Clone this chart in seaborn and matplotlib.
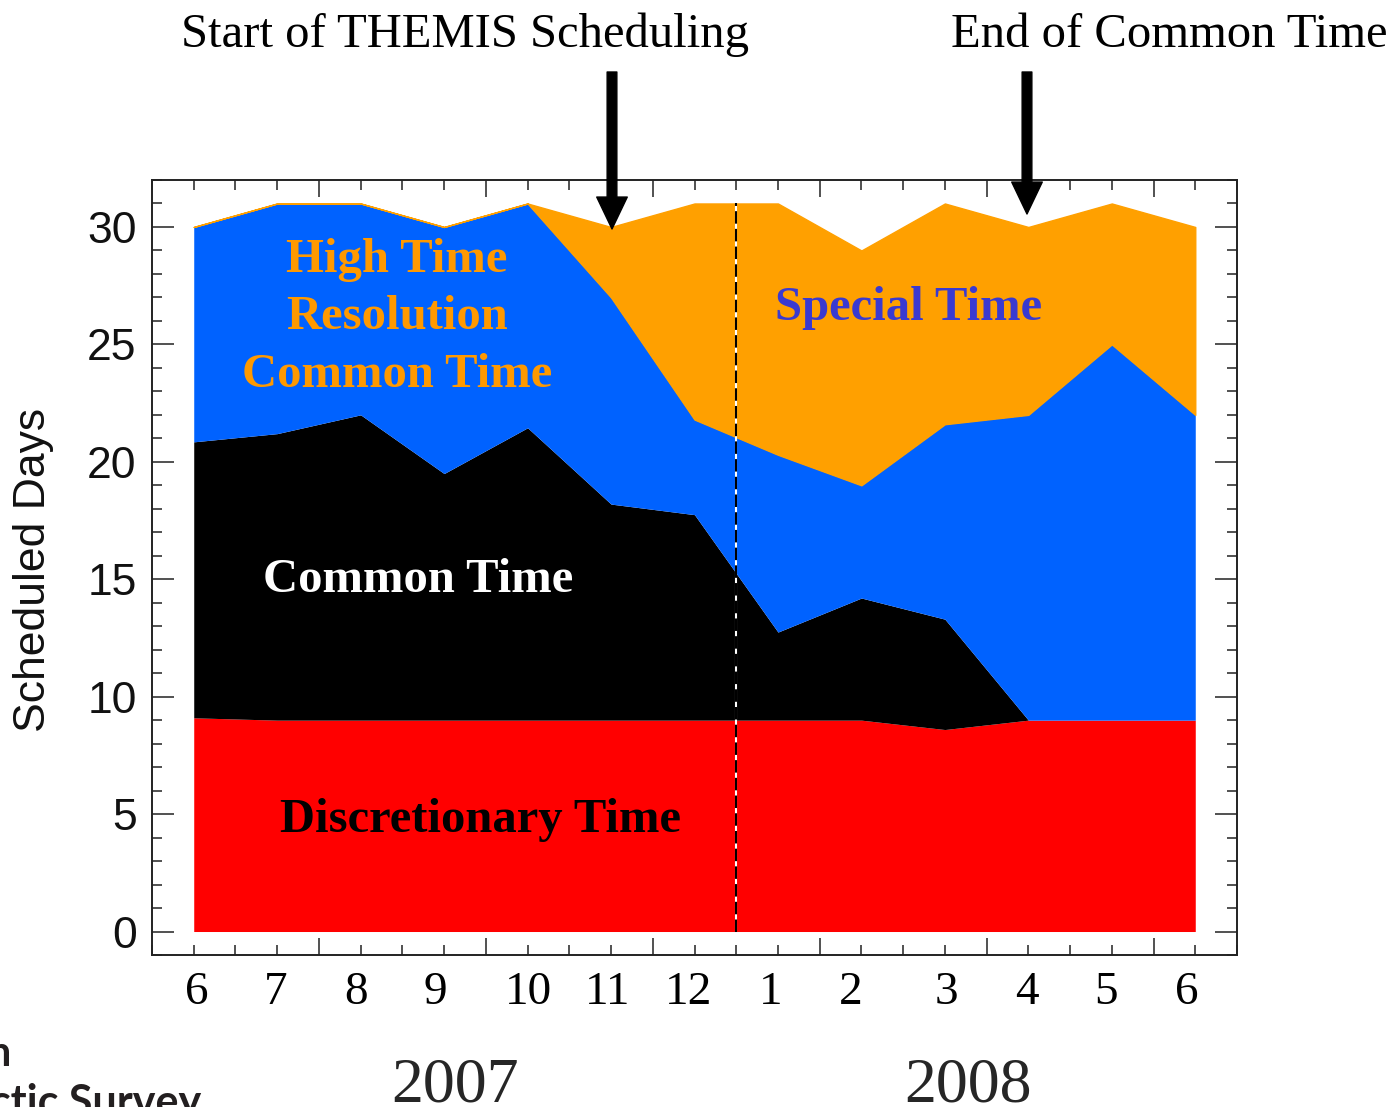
import numpy as np
import matplotlib
matplotlib.use("Agg")
import matplotlib.pyplot as plt
import seaborn as sns
from matplotlib.ticker import MultipleLocator, FixedLocator

# ---- data (days per month, stacked layers) ----
month_labels = ['6', '7', '8', '9', '10', '11', '12', '1', '2', '3', '4', '5', '6']
discretionary = [9.1, 9.0, 9.0, 9.0, 9.0, 9.0, 9.0, 9.0, 9.0, 8.6, 9.0, 9.0, 9.0]
common_time = [11.75, 12.2, 13.0, 10.5, 12.45, 9.2, 8.75, 3.75, 5.2, 4.7, 0, 0, 0]
high_res_common = [9.15, 9.8, 9.0, 10.5, 9.55, 8.8, 4.05, 7.55, 4.8, 8.3, 13.0, 16.0, 13.0]
special_time = [0, 0, 0, 0, 0, 3.0, 9.2, 10.7, 10.0, 9.4, 8.0, 6.0, 8.0]
year_labels = ['2007', '2008']

layer_colors = ['#ff0000', '#000000', '#0062ff', '#ffa000']

sns.set_theme(style="ticks")
plt.rcParams['font.family'] = ['Liberation Serif', 'DejaVu Sans']

W, H = 1390, 1107
fig = plt.figure(figsize=(W / 100, H / 100), dpi=100)
fig.patch.set_facecolor('white')

def fx(px):
    return px / W

def fy(py):
    return 1 - py / H

ax = fig.add_axes([fx(152), fy(955), fx(1237) - fx(152), fy(180) - fy(955)])
ax.set_facecolor('white')

x = np.arange(len(month_labels))
polys = ax.stackplot(x, discretionary, common_time, high_res_common, special_time,
                     colors=layer_colors, linewidth=0)
polys[3].set_edgecolor('#ffa000')
polys[3].set_linewidth(1.0)

# boundary between years
ax.vlines(6.5, 0, 31, colors='white', linewidth=1.5, zorder=3)
ax.vlines(6.5, 0, 31, colors='black', linewidth=1.5, linestyles=[(0, (6, 2.5))], zorder=4)

ax.set_xlim(-0.5, 12.5)
ax.set_ylim(-1, 32)

# axes styling
for s in ax.spines.values():
    s.set_visible(True)
    s.set_color('#222222')
    s.set_linewidth(1.4)

ax.xaxis.set_major_locator(FixedLocator([1.5, 3.5, 5.5, 7.5, 9.5, 11.5]))
ax.xaxis.set_minor_locator(MultipleLocator(0.5))
ax.yaxis.set_major_locator(FixedLocator([0, 5, 10, 15, 20, 25, 30]))
ax.yaxis.set_minor_locator(MultipleLocator(1))
ax.tick_params(axis='x', which='major', direction='in', length=12, width=1.1,
               top=True, bottom=True, labelbottom=False, color='#222222')
ax.tick_params(axis='x', which='minor', direction='in', length=7, width=1.1,
               top=True, bottom=True, color='#222222')
ax.tick_params(axis='y', which='major', direction='in', length=16, width=1.1,
               left=True, right=True, pad=11, color='#222222', labelcolor='#111111')
ax.tick_params(axis='y', which='minor', direction='in', length=7, width=1.1,
               left=True, right=True, color='#222222')
for lab in ax.get_yticklabels():
    lab.set_fontfamily('Liberation Sans')
    lab.set_fontsize(32)

fig.text(fx(34), fy(570), 'Scheduled Days', rotation=90, ha='center', va='center',
         fontfamily='Liberation Sans', fontsize=32, color='#111111')

# month labels (slightly irregular placement, as in the original)
label_x = [0.04, 0.98, 1.94, 2.89, 4.01, 4.96, 5.93, 6.91, 7.87, 9.02, 9.98, 10.93, 11.90]
for xp, lab in zip(label_x, month_labels):
    ax.text(xp, 0, lab, transform=ax.get_xaxis_transform(), ha='center', va='center',
            fontsize=34, color='black', clip_on=False)
for t in ax.texts:
    t.set_y(-(993 - 955) / (955 - 180))

# year labels
fig.text(fx(455), fy(1101), year_labels[0], ha='center', va='baseline', fontsize=46)
fig.text(fx(968), fy(1101), year_labels[1], ha='center', va='baseline', fontsize=46)

# area labels
bold = dict(fontweight='bold', fontsize=35, ha='center', va='baseline')
fig.text(fx(397), fy(272), 'High Time', color='#ff9900', **bold)
fig.text(fx(397), fy(329), 'Resolution', color='#ff9900', **bold)
fig.text(fx(397), fy(387), 'Common Time', color='#ff9900', **bold)
fig.text(fx(418), fy(592), 'Common Time', color='white', **bold)
fig.text(fx(480), fy(832), 'Discretionary Time', color='black', **bold)
fig.text(fx(909), fy(320), 'Special Time', color='#3a3ad0', **bold)

# top annotations with arrows
fig.text(fx(465), fy(47), 'Start of THEMIS Scheduling', ha='center', va='baseline',
         fontsize=35, color='black')
fig.text(fx(1169), fy(47), 'End of Common Time', ha='center', va='baseline',
         fontsize=35, color='black')
arrow_kw = dict(facecolor='black', edgecolor='black', width=7, headwidth=22,
                headlength=23, shrink=0)
ax.annotate('', xy=(fx(612), fy(229)), xytext=(fx(612), fy(72)),
            xycoords='figure fraction', textcoords='figure fraction',
            arrowprops=arrow_kw, annotation_clip=False)
ax.annotate('', xy=(fx(1027), fy(214)), xytext=(fx(1027), fy(72)),
            xycoords='figure fraction', textcoords='figure fraction',
            arrowprops=arrow_kw, annotation_clip=False)

# partial logo text at bottom-left
fig.text(fx(12), fy(1066), 'British', ha='right', va='baseline',
         fontfamily='Lato', fontweight='bold', fontsize=30, color='#231f20')
fig.text(fx(201), fy(1116), 'Antarctic Survey', ha='right', va='baseline',
         fontfamily='Lato', fontweight='bold', fontsize=31, color='#231f20')

fig.savefig('out.png', dpi=100, facecolor='white')
